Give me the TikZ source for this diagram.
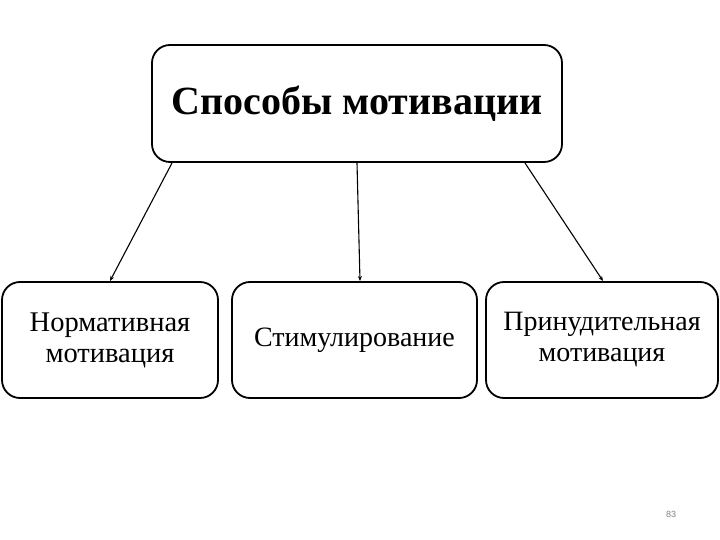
\documentclass[tikz,border=0pt]{standalone}
\usepackage{fontspec}
\setmainfont{Liberation Serif}
\setsansfont{Liberation Sans}
\usetikzlibrary{arrows.meta}
\begin{document}
\begin{tikzpicture}[x=1pt,y=-1pt,
  boxstyle/.style={draw=black,line width=1.8pt,rounded corners=18pt,fill=white,align=center,inner sep=0pt},
  conn/.style={draw=black,line width=1.1pt,-{Stealth[length=5pt,width=4pt]}}]
\useasboundingbox[fill=white] (0,0) rectangle (720,540);
\node[boxstyle,minimum width=410pt,minimum height=117pt,font=\fontsize{40}{46}\selectfont\bfseries] (top) at (357,103.5) {Способы мотивации};
\node[boxstyle,minimum width=216pt,minimum height=116pt,font=\fontsize{28.5}{31}\selectfont] (b1) at (110,340) {Нормативная\\мотивация};
\node[boxstyle,minimum width=245pt,minimum height=116pt,font=\fontsize{28}{31}\selectfont] (b2) at (354.5,340) {Стимулирование};
\node[boxstyle,minimum width=232pt,minimum height=116pt,font=\fontsize{28}{31}\selectfont] (b3) at (602,340) {Принудительная\\мотивация};
\coordinate (s1) at (172,163);
\coordinate (s2) at (357,163);
\coordinate (s3) at (525,163);
\coordinate (e1) at (110,281);
\coordinate (e2) at (360,281);
\coordinate (e3) at (603,281);
\draw[conn] (s1) -- (e1);
\draw[conn] (s2) -- (e2);
\draw[conn] (s3) -- (e3);
\node[font=\sffamily\fontsize{9}{10}\selectfont,text=gray] (pg) at (671,514) {83};
\end{tikzpicture}
\end{document}
